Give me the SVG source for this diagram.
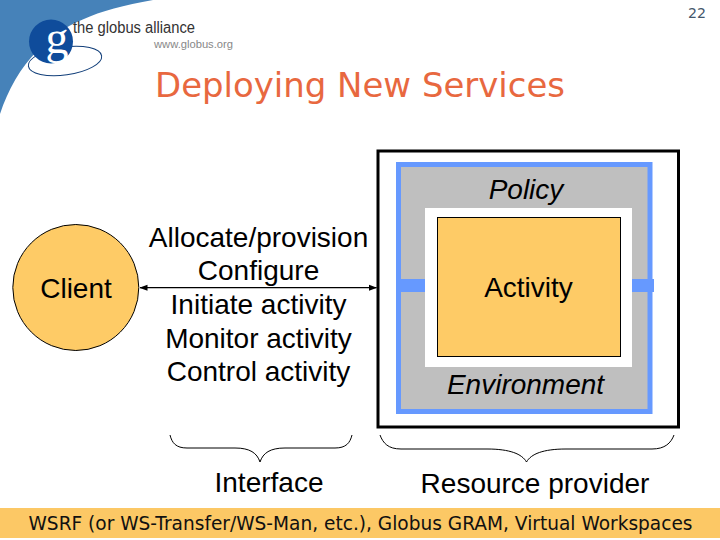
<svg xmlns="http://www.w3.org/2000/svg" width="720" height="540" viewBox="0 0 720 540">
<style>
.a{font-family:"Liberation Sans",Arial,sans-serif;font-size:28px;fill:#000;text-anchor:middle}
.i{font-style:italic}
.v{font-family:"DejaVu Sans",Verdana,sans-serif}
.b{fill:none;stroke:#000;stroke-width:1}
</style>
<defs>
<marker id="ah" viewBox="0 0 8 8" refX="7.5" refY="4" markerWidth="8" markerHeight="8" markerUnits="userSpaceOnUse" orient="auto-start-reverse"><path d="M0 1L8 4L0 7Z" fill="#000"/></marker>
</defs>
<rect width="720" height="540" fill="#fff"/>
<g id="logo">
<path d="M0 0H153C95 10 62 25 38 50C20 68 8 90 0 114Z" fill="#4682b9"/>
<ellipse cx="65" cy="61" rx="37" ry="14" transform="rotate(-8 65 61)" fill="none" stroke="#123f7a" stroke-width="1"/>
<circle cx="51" cy="41.500" r="22" fill="#0f4c9b"/>
<text x="57" y="53" font-family="Liberation Serif,serif" font-size="46" fill="#fff" text-anchor="middle">g</text>
<text x="73" y="33" font-family="Liberation Sans,sans-serif" font-size="16" fill="#333" textLength="122" lengthAdjust="spacingAndGlyphs">the globus alliance</text>
<text x="154" y="48" font-family="Liberation Sans,sans-serif" font-size="11" fill="#888" textLength="79" lengthAdjust="spacingAndGlyphs">www.globus.org</text>
</g>
<text x="688" y="18" class="v" font-size="14" fill="#44566b" textLength="18" lengthAdjust="spacingAndGlyphs">22</text>
<text x="155" y="97" class="v" font-size="33" fill="#e8683f" textLength="410" lengthAdjust="spacingAndGlyphs">Deploying New Services</text>
<g id="provider">
<rect x="378" y="151" width="300.500" height="276" fill="#fff" stroke="#000" stroke-width="3"/>
<rect x="398.500" y="164.500" width="251.500" height="247" fill="#bfbfbf" stroke="#6699ff" stroke-width="5"/>
<rect x="398" y="279" width="256" height="13" fill="#6699ff"/>
<rect x="425" y="208" width="207" height="159" fill="#fff"/>
<text x="526" y="199" class="a i">Policy</text>
<text x="525.500" y="394" class="a i">Environment</text>
</g>
<g id="activity">
<rect x="437.500" y="217.500" width="183" height="139" fill="#fecb66" stroke="#000" stroke-width="1"/>
<text x="528.500" y="297" class="a">Activity</text>
</g>
<g id="client">
<circle cx="75.800" cy="287.500" r="63" fill="#fecb66" stroke="#000" stroke-width="1"/>
<text x="76" y="298" class="a">Client</text>
</g>
<g id="connectors">
<line x1="140" y1="287.700" x2="376.500" y2="287.700" stroke="#000" stroke-width="1.300" marker-start="url(#ah)" marker-end="url(#ah)"/>
<path class="b" d="M170 435C172 443 176 448 187 448H235C250 448 257 453 260 462C263 453 270 448 285 448H335C346 448 350 443 352 435"/>
<path class="b" d="M380 435C383 443 388 449 401 449H487C510 449 522 454 526.500 462C531 454 543 449 566 449H652C665 449 671 443 674 435"/>
</g>
<g id="labels">
<text x="258.500" y="247" class="a">Allocate/provision</text>
<text x="258.500" y="280" class="a">Configure</text>
<text x="258.500" y="314" class="a">Initiate activity</text>
<text x="258.500" y="348" class="a">Monitor activity</text>
<text x="258.500" y="381" class="a">Control activity</text>
<text x="269" y="492" class="a">Interface</text>
<text x="535" y="493" class="a">Resource provider</text>
</g>
<g id="bar">
<rect x="0" y="508" width="720" height="30" fill="#fcc865"/>
<text x="28.500" y="530" class="v" font-size="19" fill="#111" textLength="664" lengthAdjust="spacingAndGlyphs">WSRF (or WS-Transfer/WS-Man, etc.), Globus GRAM, Virtual Workspaces</text>
</g>
</svg>
